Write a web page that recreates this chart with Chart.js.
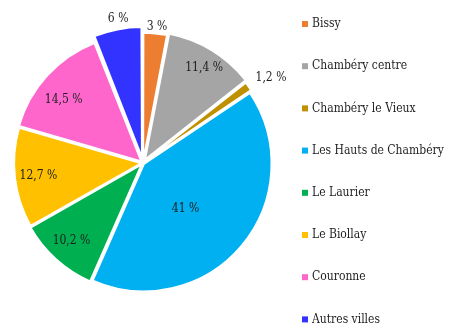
<!DOCTYPE html>
<html>
<head>
<meta charset="utf-8">
<script src="https://cdn.jsdelivr.net/npm/chart.js@4"></script>
<style>
  html, body { margin: 0; padding: 0; background: #ffffff; }
  #wrap { width: 457px; height: 333px; position: relative; }
</style>
</head>
<body>
<div id="wrap"><canvas id="c" width="457" height="333"></canvas></div>
<script>
// ---- data ----
const categories = ["Bissy", "Chambéry centre", "Chambéry le Vieux", "Les Hauts de Chambéry", "Le Laurier", "Le Biollay", "Couronne", "Autres villes"];
const shares = [3, 11.4, 1.2, 41, 10.2, 12.7, 14.5, 6];
const valueLabels = ["3 %", "11,4 %", "1,2 %", "41 %", "10,2 %", "12,7 %", "14,5 %", "6 %"];

// ---- styles ----
const sliceColors = ["#ED7D31", "#A5A5A5", "#BF9000", "#00B0F0", "#00B050", "#FFC000", "#FF66CC", "#3333FF"];
const sliceOffsets = [7, 15, 7, 5, 8, 6, 9, 22];
const labelRadiusFactor = [1.08, 0.89, 1.21, 0.49, 0.83, 0.83, 0.80, 1.15];
const labelAngleShiftDeg = [0.5, 1.4, 2.4, 7, 0.6, -0.3, -3.6, 1];
const textFont = '"DejaVu Serif Condensed", "DejaVu Serif", serif';

const sliceLabelPlugin = {
  id: 'sliceLabels',
  afterDatasetsDraw(chart) {
    const ctx = chart.ctx;
    const meta = chart.getDatasetMeta(0);
    ctx.save();
    ctx.font = '12px ' + textFont;
    ctx.fillStyle = '#1e1e1e';
    ctx.textAlign = 'center';
    ctx.textBaseline = 'middle';
    meta.data.forEach((arc, i) => {
      const p = arc.getProps(['x', 'y', 'startAngle', 'endAngle', 'outerRadius'], true);
      const mid = (p.startAngle + p.endAngle) / 2 + labelAngleShiftDeg[i] * Math.PI / 180;
      const r = p.outerRadius * labelRadiusFactor[i];
      ctx.fillText(valueLabels[i], p.x + Math.cos(mid) * r, p.y + Math.sin(mid) * r);
    });
    ctx.restore();
  }
};

const sideLegendPlugin = {
  id: 'sideLegend',
  afterDraw(chart) {
    const ctx = chart.ctx;
    const x0 = 302, y0 = 24, step = 42.2, box = 6;
    ctx.save();
    ctx.font = '12px ' + textFont;
    ctx.textAlign = 'left';
    ctx.textBaseline = 'middle';
    chart.data.labels.forEach((lab, i) => {
      const y = y0 + i * step;
      ctx.fillStyle = chart.data.datasets[0].backgroundColor[i];
      ctx.fillRect(x0, y - box / 2, box, box);
      ctx.fillStyle = '#1e1e1e';
      ctx.fillText(lab, x0 + 10, y);
    });
    ctx.restore();
  }
};

new Chart(document.getElementById('c'), {
  type: 'pie',
  data: {
    labels: categories,
    datasets: [{
      data: shares,
      backgroundColor: sliceColors,
      borderColor: '#ffffff',
      borderWidth: 2,
      offset: sliceOffsets
    }]
  },
  options: {
    responsive: false,
    animation: false,
    layout: { padding: { left: 4, top: 24, right: 175, bottom: 31 } },
    plugins: {
      legend: { display: false },
      tooltip: { enabled: false }
    }
  },
  plugins: [sliceLabelPlugin, sideLegendPlugin]
});
</script>
</body>
</html>
